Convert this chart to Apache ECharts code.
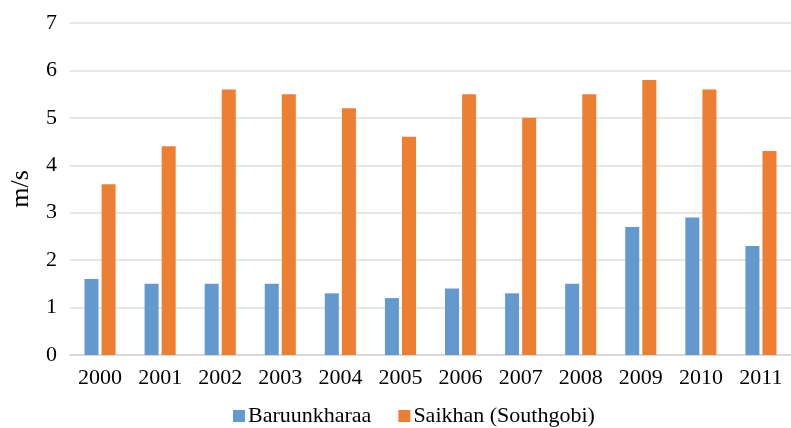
<!DOCTYPE html>
<html>
<head>
<meta charset="utf-8">
<script src="https://cdn.jsdelivr.net/npm/echarts@6/dist/echarts.min.js"></script>
<style>
  html, body { margin: 0; padding: 0; background: #fff; }
  #chart { width: 791px; height: 428px; }
</style>
</head>
<body>
<div id="chart"></div>
<script>
// Annual mean wind speed (m/s) at two stations
const years = ['2000', '2001', '2002', '2003', '2004', '2005', '2006', '2007', '2008', '2009', '2010', '2011'];
const baruunkharaa = [1.6, 1.5, 1.5, 1.5, 1.3, 1.2, 1.4, 1.3, 1.5, 2.7, 2.9, 2.3];
const saikhan = [3.6, 4.4, 5.6, 5.5, 5.2, 4.6, 5.5, 5.0, 5.5, 5.8, 5.6, 4.3];
const yTicks = [0, 1, 2, 3, 4, 5, 6, 7];

const serif = '"Liberation Serif", "Times New Roman", serif';
const chart = echarts.init(document.getElementById('chart'), null, { renderer: 'canvas' });

chart.setOption({
  animation: false,
  backgroundColor: '#ffffff',
  textStyle: { fontFamily: serif },
  grid: { left: 69, top: 23, width: 724, height: 332, containLabel: false },
  legend: {
    top: 400,
    left: 228,
    itemWidth: 12,
    itemHeight: 12,
    itemGap: 27,
    icon: 'rect',
    textStyle: { fontFamily: serif, fontSize: 22, color: '#000', padding: [0, 0, 0, -2] },
    data: ['Baruunkharaa', 'Saikhan (Southgobi)']
  },
  xAxis: {
    type: 'category',
    data: years,
    axisTick: { show: false },
    axisLine: { lineStyle: { color: '#d9d9d9', width: 2 } },
    axisLabel: { fontFamily: serif, fontSize: 22, color: '#000', margin: 12 }
  },
  yAxis: {
    type: 'value',
    min: yTicks[0],
    max: yTicks[yTicks.length - 1],
    interval: 1,
    name: 'm/s',
    nameLocation: 'middle',
    nameGap: 36,
    nameTextStyle: { fontFamily: serif, fontSize: 26, color: '#000' },
    axisLine: { show: false },
    axisTick: { show: false },
    axisLabel: { fontFamily: serif, fontSize: 22, color: '#000', margin: 13 },
    splitLine: { lineStyle: { color: '#dedede', width: 1.5 } }
  },
  series: [
    {
      name: 'Baruunkharaa',
      type: 'bar',
      data: baruunkharaa,
      barWidth: 14,
      barGap: '22%',
      itemStyle: { color: '#6399cf' }
    },
    {
      name: 'Saikhan (Southgobi)',
      type: 'bar',
      data: saikhan,
      barWidth: 14,
      barGap: '22%',
      itemStyle: { color: '#ed7f33' }
    }
  ]
});
</script>
</body>
</html>
